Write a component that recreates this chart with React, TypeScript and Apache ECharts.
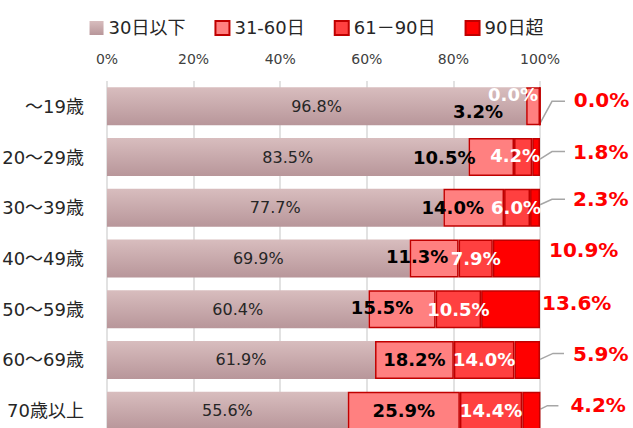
import React, { useEffect, useRef } from 'react';
import * as echarts from 'echarts';

// ---- data ----
const categories = ['～19歳', '20～29歳', '30～39歳', '40～49歳', '50～59歳', '60～69歳', '70歳以上'];
const seriesNames = ['30日以下', '31-60日', '61－90日', '90日超'];
const upTo30 = [96.8, 83.5, 77.7, 69.9, 60.4, 61.9, 55.6];
const d31to60 = [3.2, 10.5, 14.0, 11.3, 15.5, 18.2, 25.9];
const d61to90 = [0.0, 4.2, 6.0, 7.9, 10.5, 14.0, 14.4];
const over90 = [0.0, 1.8, 2.3, 10.9, 13.6, 5.9, 4.2];
const xTickStep = 20;

// ---- label placement (style, pixel offsets) ----
const OFF2: number[][] = [[-55, 5], [-47, 0], [-21, 0], [-17, -2], [-20, -2], [0, 0], [0, 0]];
const OFF3: number[][] = [[-27, -11.5], [-8, -1.5], [-1, 0], [0, 0], [0, 0], [0, 0], [0, 0]];
const OFF4: number[][] = [[28, -6], [28, -5.5], [28, -8.5], [4, -8.5], [-3, -6], [28, -6], [25, -6]];
// leader lines: [dyStart, dxMid, dyMid, dxEnd]
const LEADERS: Record<number, number[]> = {
  0: [17, 12, -5, 25],
  1: [2, 12, -5.5, 25],
  2: [-3, 12, -8.5, 25],
  5: [-0.5, 13, -6.5, 24],
  6: [-1.5, 7, -5, 18],
};

const FONT = "'DejaVu Sans', 'Noto Sans CJK JP', sans-serif";
const BORDER = '#c00000';

const fmt = (p: any) => Number(p.value).toFixed(1) + '%';

export default function App() {
  const ref = useRef<HTMLDivElement>(null);
  useEffect(() => {
    if (!ref.current) return;
    const chart = echarts.init(ref.current, undefined, { renderer: 'svg' });
    const totals = categories.map((_, i) => upTo30[i] + d31to60[i] + d61to90[i] + over90[i]);
    const leaderRows = Object.keys(LEADERS).map(Number);

    const mkData = (vals: number[], offs: number[][]) =>
      vals.map((v, i) => ({ value: v, label: { offset: offs[i] } }));

    const option: any = {
      animation: false,
      textStyle: { fontFamily: FONT },
      legend: {
        data: seriesNames,
        left: 'center',
        top: 14,
        itemWidth: 14,
        itemHeight: 14,
        itemGap: 29,
        icon: 'rect',
        textStyle: { fontSize: 18, color: '#262626', fontFamily: FONT },
      },
      grid: { left: 107, right: 93, top: 81, height: 355, containLabel: false, outerBoundsMode: 'none' },
      xAxis: {
        type: 'value',
        position: 'top',
        min: 0,
        max: 100,
        interval: xTickStep,
        axisLine: { show: false },
        axisTick: { show: false },
        axisLabel: { formatter: '{value}%', fontSize: 14, color: '#404040', margin: 15, fontFamily: FONT },
        splitLine: { show: true, lineStyle: { color: '#d9d9d9', width: 1.5 } },
      },
      yAxis: {
        type: 'category',
        data: categories,
        inverse: true,
        axisLine: { show: false },
        axisTick: { show: false },
        axisLabel: { fontSize: 18, color: '#262626', margin: 23, fontFamily: FONT },
      },
      series: [
        {
          name: seriesNames[0],
          type: 'bar',
          stack: 'total',
          barWidth: 38,
          data: upTo30,
          itemStyle: {
            color: new echarts.graphic.LinearGradient(0, 0, 0, 1, [
              { offset: 0, color: '#d8bdbe' },
              { offset: 1, color: '#b8969a' },
            ]),
          },
          label: { show: true, position: 'inside', formatter: fmt, fontSize: 16, color: '#262626', fontFamily: FONT },
        },
        {
          name: seriesNames[1],
          type: 'bar',
          stack: 'total',
          barWidth: 38,
          data: mkData(d31to60, OFF2),
          itemStyle: { color: '#ff8080', borderColor: BORDER, borderWidth: 1.5 },
          label: { show: true, position: 'inside', formatter: fmt, fontSize: 18, fontWeight: 'bold', color: '#000', fontFamily: FONT },
        },
        {
          name: seriesNames[2],
          type: 'bar',
          stack: 'total',
          barWidth: 38,
          data: mkData(d61to90, OFF3),
          itemStyle: { color: '#ff4040', borderColor: BORDER, borderWidth: 1.5 },
          label: { show: true, position: 'inside', formatter: fmt, fontSize: 18, fontWeight: 'bold', color: '#fff', fontFamily: FONT },
        },
        {
          name: seriesNames[3],
          type: 'bar',
          stack: 'total',
          barWidth: 38,
          data: mkData(over90, OFF4),
          itemStyle: { color: '#ff0000', borderColor: BORDER, borderWidth: 1.5 },
          label: { show: true, position: 'right', distance: 5, formatter: fmt, fontSize: 20, fontWeight: 'bold', color: '#ff0000', fontFamily: FONT },
        },
        {
          name: 'leader',
          type: 'custom',
          clip: false,
          silent: true,
          encode: { x: 0, y: 1 },
          data: leaderRows.map((i) => [totals[i], i]),
          renderItem: (params: any, api: any) => {
            const row = leaderRows[params.dataIndex];
            const g = LEADERS[row];
            const p = api.coord([api.value(0), api.value(1)]);
            return {
              type: 'polyline',
              shape: {
                points: [
                  [p[0], p[1] + g[0]],
                  [p[0] + g[1], p[1] + g[2]],
                  [p[0] + g[3], p[1] + g[2]],
                ],
              },
              style: { stroke: '#a6a6a6', lineWidth: 1.5, fill: null },
            };
          },
        },
      ],
    };
    chart.setOption(option);
    return () => chart.dispose();
  }, []);
  return (
    <div
      ref={ref}
      style={{ position: 'fixed', left: 0, top: 0, width: 633, height: 428, background: '#fff' }}
    />
  );
}
